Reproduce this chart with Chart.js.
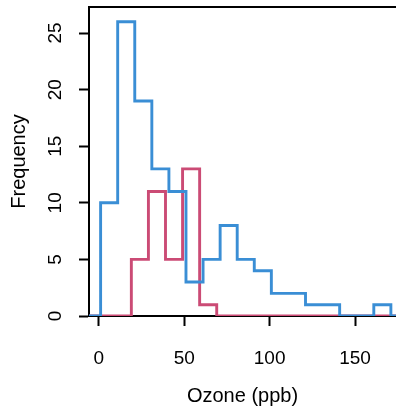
<!DOCTYPE html>
<html>
<head>
<meta charset="utf-8">
<script src="https://cdn.jsdelivr.net/npm/chart.js@4/dist/chart.umd.min.js"></script>
<style>
  html, body { margin: 0; padding: 0; background: #ffffff; overflow: hidden; }
  canvas { display: block; }
</style>
</head>
<body>
<canvas id="c" width="396" height="408" style="width:396px;height:408px"></canvas>
<script>
// ---- data ----
const blueEdges  = [1, 11, 21, 31, 41, 51, 61, 71, 81, 91, 101, 121, 141, 161, 171];
const blueCounts = [10, 26, 19, 13, 11, 3, 5, 8, 5, 4, 2, 1, 0, 1];
const redEdges   = [19, 29, 39, 49, 59, 69];
const redCounts  = [5, 11, 5, 13, 1];
const xTicks = [0, 50, 100, 150];
const yTicks = [0, 5, 10, 15, 20, 25];
const X_MIN = -5.8, X_MAX = 174.0;
const Y_MIN = 0, Y_MAX = 27.3;

function stepPoints(edges, counts) {
  const pts = [{x: X_MIN, y: 0}];
  counts.forEach((c, i) => pts.push({x: edges[i], y: c}));
  pts.push({x: edges[edges.length - 1], y: 0});
  pts.push({x: X_MAX, y: 0});
  return pts;
}

function noPad(s) {
  s.paddingTop = 0; s.paddingBottom = 0; s.paddingLeft = 0; s.paddingRight = 0;
}

const FONT = '"Liberation Sans", Arial, Helvetica, sans-serif';
const BLUE = '#3a8ed5';
const RED  = '#cb4b75';

new Chart(document.getElementById('c'), {
  type: 'line',
  data: {
    datasets: [
      { data: stepPoints(blueEdges, blueCounts), borderColor: BLUE, borderWidth: 2.9,
        stepped: 'before', pointRadius: 0, fill: false, borderJoinStyle: 'miter', order: 0 },
      { data: stepPoints(redEdges, redCounts), borderColor: RED, borderWidth: 2.9,
        stepped: 'before', pointRadius: 0, fill: false, borderJoinStyle: 'miter', order: 1 }
    ]
  },
  options: {
    responsive: false,
    animation: false,
    devicePixelRatio: 1,
    layout: { padding: 0 },
    plugins: { legend: { display: false }, tooltip: { enabled: false } },
    scales: {
      x: {
        type: 'linear', position: 'bottom', min: X_MIN, max: X_MAX,
        afterBuildTicks: s => { s.ticks = xTicks.map(v => ({value: v})); },
        afterFit: s => { s.height = 92; noPad(s); },
        grid: { display: true, drawOnChartArea: false, drawTicks: true, tickLength: 10,
                tickColor: '#000', tickWidth: 2 },
        border: { display: true, color: '#000', width: 2 },
        ticks: { color: '#000', font: { family: FONT, size: 19 }, padding: 21,
                 maxRotation: 0, minRotation: 0, autoSkip: false },
        title: { display: true, text: 'Ozone (ppb)', color: '#000',
                 font: { family: FONT, size: 20 }, padding: { top: 0, bottom: 0 } }
      },
      xTop: {
        type: 'linear', position: 'top', display: true, min: 0, max: 1,
        afterFit: s => { s.height = 7; noPad(s); },
        grid: { display: false, drawTicks: false },
        border: { display: true, color: '#000', width: 2 },
        ticks: { display: false }
      },
      y: {
        type: 'linear', position: 'left', min: Y_MIN, max: Y_MAX,
        afterBuildTicks: s => { s.ticks = yTicks.map(v => ({value: v})); },
        afterFit: s => { s.width = 89; noPad(s); },
        grid: { display: true, drawOnChartArea: false, drawTicks: true, tickLength: 10,
                tickColor: '#000', tickWidth: 2 },
        border: { display: true, color: '#000', width: 2 },
        ticks: { color: '#000', font: { family: FONT, size: 19 }, padding: 13,
                 minRotation: 90, maxRotation: 90, crossAlign: 'center', autoSkip: false },
        title: { display: true, text: 'Frequency', color: '#000',
                 font: { family: FONT, size: 20 }, padding: { top: 7, bottom: 0 } }
      }
    }
  }
});
</script>
</body>
</html>
